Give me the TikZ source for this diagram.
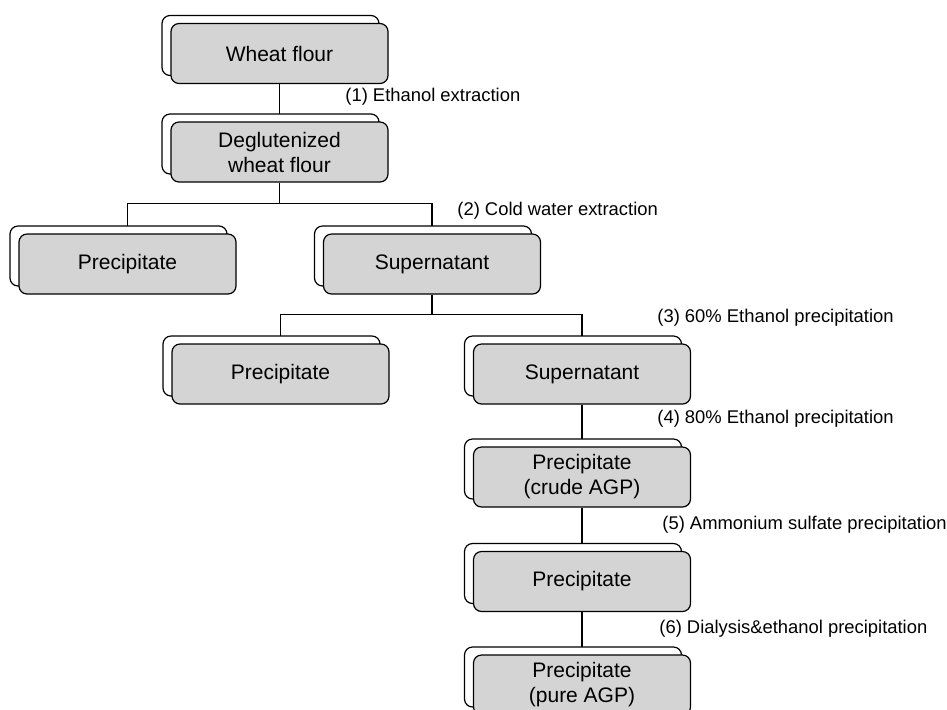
\documentclass[tikz,border=0pt]{standalone}
\usepackage{fontspec}
\setmainfont{Liberation Sans}
\usetikzlibrary{shadows,backgrounds}
\definecolor{boxgray}{RGB}{212,212,212}
\tikzset{
  stage/.style={draw=black, line width=0.6pt, fill=boxgray, rounded corners=4pt,
    minimum width=108.5pt, minimum height=30pt, inner sep=0pt, align=center,
    font=\fontsize{10.5}{12.5}\selectfont,
    copy shadow={shadow xshift=-4.5pt, shadow yshift=4pt, fill=white, draw=black, line width=0.6pt}},
  steplabel/.style={anchor=west, inner sep=0pt, font=\fontsize{9.2}{11}\selectfont},
  link/.style={line width=0.55pt}
}
\begin{document}
\begin{tikzpicture}[x=0.5pt,y=-0.5pt]
\useasboundingbox (0,0) rectangle (947,709);
\clip (0,0) rectangle (947,709);
\node[stage] (wheat) at (279.5,53.5) {Wheat flour};
\node[stage] (deglut) at (279.5,152) {Deglutenized\\wheat flour};
\node[stage] (precA) at (127.5,264) {Precipitate};
\node[stage] (superA) at (432,264) {Supernatant};
\node[stage] (precB) at (280.5,374) {Precipitate};
\node[stage] (superB) at (582,374) {Supernatant};
\node[stage] (crude) at (582,477) {Precipitate\\(crude AGP)};
\node[stage] (precC) at (582,581.5) {Precipitate};
\node[stage] (pure) at (582,685) {Precipitate\\(pure AGP)};
\node[steplabel] (s1) at (345,97) {(1) Ethanol extraction};
\node[steplabel] (s2) at (457,211) {(2) Cold water extraction};
\node[steplabel] (s3) at (657,318) {(3) 60\% Ethanol precipitation};
\node[steplabel] (s4) at (657,419) {(4) 80\% Ethanol precipitation};
\node[steplabel] (s5) at (662,525) {(5) Ammonium sulfate precipitation};
\node[steplabel] (s6) at (659,629) {(6) Dialysis\&ethanol precipitation};
\begin{scope}[on background layer]
\draw[link] (wheat.south) -- (deglut.north);
\draw[link] (deglut.south) -- ++(0,21) coordinate (forkA);
\draw[link] (precA.north) |- (forkA) -| (superA.north);
\draw[link] (superA.south) -- ++(0,20) coordinate (forkB);
\draw[link] (precB.north) |- (forkB) -| (superB.north);
\draw[link] (superB.south) -- (crude.north);
\draw[link] (crude.south) -- (precC.north);
\draw[link] (precC.south) -- (pure.north);
\end{scope}
\end{tikzpicture}
\end{document}
